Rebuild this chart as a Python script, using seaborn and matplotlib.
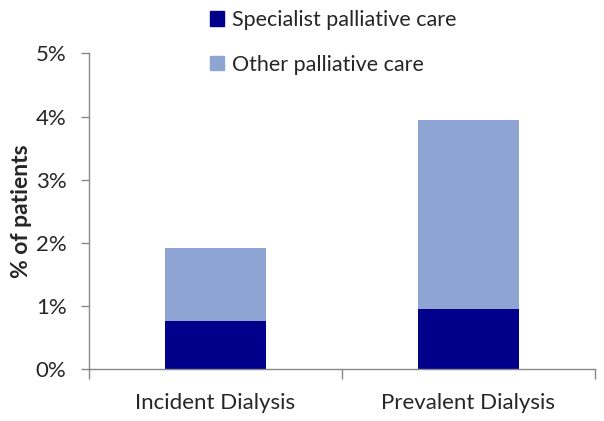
import seaborn as sns
import matplotlib.pyplot as plt
import matplotlib.patches as mpatches
import pandas as pd

# values (% of patients)
groups = ["Incident Dialysis", "Prevalent Dialysis"]
specialist = [0.76, 0.945]
other = [1.16, 3.005]

dark = "#00008B"
light = "#8EA4D2"

sns.set_style("white")
plt.rcParams['font.family'] = ['Lato', 'DejaVu Sans']

df = pd.DataFrame({"group": groups, "specialist": specialist, "other": other})
df["total"] = df["specialist"] + df["other"]

fig = plt.figure(figsize=(6.04, 4.21), dpi=100)
ax = fig.add_axes([0.147, 0.1235, 0.838, 0.7495])

# stacked: draw totals first, then the specialist part over it
sns.barplot(data=df, x="group", y="total", color=light, width=0.4,
            saturation=1, linewidth=0, ax=ax)
sns.barplot(data=df, x="group", y="specialist", color=dark, width=0.4,
            saturation=1, linewidth=0, ax=ax)

ax.set_xlim(-0.5, 1.5)
ax.set_ylim(0, 5)
ax.set_yticks([0, 1, 2, 3, 4, 5])
ax.set_yticklabels(["%d%%" % v for v in range(6)], fontsize=16)
ax.set_xticklabels(groups, fontsize=16)
ax.set_xlabel("")
ax.set_ylabel("% of patients", fontsize=16.5, fontweight="bold", labelpad=3)

for s in ["top", "right"]:
    ax.spines[s].set_visible(False)
for s in ["left", "bottom"]:
    ax.spines[s].set_color("#888888")
    ax.spines[s].set_linewidth(1)

ax.tick_params(axis="y", left=True, length=6, color="#888888", width=1, pad=10)
ax.tick_params(axis="x", bottom=False, pad=14)
ax.set_xticks([-0.5, 0.5, 1.5], minor=True)
ax.tick_params(axis="x", which="minor", bottom=True, length=7,
               color="#888888", width=1)

handles = [mpatches.Patch(color=dark, label="Specialist palliative care"),
           mpatches.Patch(color=light, label="Other palliative care")]
fig.legend(handles=handles, loc="upper left", bbox_to_anchor=(0.322, 1.012),
           frameon=False, fontsize=15.5, labelspacing=1.15, handlelength=0.65,
           handleheight=0.65, handletextpad=0.4, borderpad=0.2)

fig.savefig("out.png", dpi=100)
